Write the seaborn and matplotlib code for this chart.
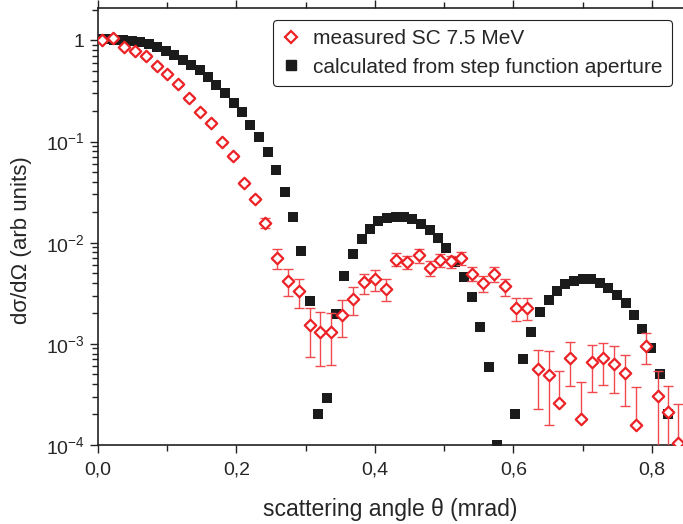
import numpy as np
import pandas as pd
import seaborn as sns
import matplotlib.pyplot as plt
from matplotlib.lines import Line2D
from matplotlib.ticker import LogLocator, FixedLocator, MultipleLocator, NullFormatter

# measured SC 7.5 MeV (red diamonds)
x_meas = [0.006, 0.022, 0.038, 0.053, 0.069, 0.085, 0.100, 0.116, 0.131, 0.148,
          0.164, 0.180, 0.195, 0.211, 0.227, 0.242, 0.258, 0.274, 0.290, 0.306,
          0.321, 0.337, 0.353, 0.368, 0.384, 0.400, 0.416, 0.431, 0.447, 0.463,
          0.479, 0.494, 0.510, 0.525, 0.540, 0.556, 0.572, 0.588, 0.603, 0.619,
          0.635, 0.651, 0.666, 0.681, 0.697, 0.713, 0.729, 0.745, 0.761, 0.777,
          0.792, 0.808, 0.823, 0.837]
y_meas = [1.0, 1.05, 0.86, 0.78, 0.706, 0.56, 0.47, 0.37, 0.27, 0.198,
          0.154, 0.098, 0.072, 0.039, 0.027, 0.0158, 0.0070, 0.0042, 0.0033, 0.00152,
          0.00132, 0.0013, 0.00194, 0.00277, 0.00404, 0.00437, 0.00348, 0.00678, 0.00643, 0.00747,
          0.00561, 0.00667, 0.00652, 0.00704, 0.00492, 0.00398, 0.00489, 0.00369, 0.00225, 0.00225,
          0.00056, 0.000493, 0.000262, 0.000722, 0.00018, 0.00066, 0.000722, 0.000634, 0.000513, 0.000156,
          0.00095, 0.000306, 0.00021, 0.000105]
# error bar ends (upper / lower value); None -> small relative error
y_hi = [None] * 15 + [0.0175, 0.00865, 0.00548, 0.00437, 0.00225,
                      0.00204, 0.00201, 0.00272, 0.00364, 0.00492, 0.00531, 0.00437, 0.00789, 0.0073, 0.00865,
                      0.00652, 0.00776, 0.00742, 0.00807, 0.00574, 0.00471, 0.00574, 0.00437, 0.00283, 0.00283,
                      0.000873, 0.000839, 0.000532, 0.00105, 0.000418, 0.000977, 0.00102, 0.00094, 0.000778, 0.00037,
                      0.00128, 0.000532, 0.000385, 0.000253]
y_lo = [None] * 15 + [0.0139, 0.00552, 0.00298, 0.00225, 0.000748,
                      0.000606, 0.00062, 0.00116, 0.00194, 0.0031, 0.00334, 0.00262, 0.00582, 0.00552, 0.00628,
                      0.00463, 0.00569, 0.00561, 0.00604, 0.00413, 0.00322, 0.00404, 0.00298, 0.00169, 0.00173,
                      0.000226, 0.000158, 0.000262, 0.000385, 0.00018, 0.000337, 0.000393, 0.000325, 0.000244, 0.000156,
                      0.00063, 0.00001, 0.00001, 0.00001]

# calculated from step function aperture (black squares)
x_calc = [0.000, 0.012, 0.024, 0.037, 0.049, 0.061, 0.074, 0.086, 0.098, 0.110,
          0.123, 0.135, 0.147, 0.159, 0.171, 0.184, 0.196, 0.208, 0.220, 0.233,
          0.245, 0.257, 0.270, 0.282, 0.294, 0.306, 0.318, 0.331, 0.344, 0.356,
          0.368, 0.381, 0.393, 0.405, 0.418, 0.430, 0.442, 0.454, 0.467, 0.479,
          0.491, 0.503, 0.516, 0.528, 0.540, 0.552, 0.565, 0.577, 0.602, 0.614,
          0.626, 0.638, 0.651, 0.663, 0.675, 0.687, 0.700, 0.712, 0.725, 0.737,
          0.750, 0.763, 0.774, 0.786, 0.799, 0.811, 0.823]
y_calc = [1.03, 1.03, 1.02, 1.01, 0.99, 0.97, 0.92, 0.86, 0.79, 0.71,
          0.64, 0.575, 0.505, 0.43, 0.365, 0.30, 0.243, 0.194, 0.147, 0.111,
          0.078, 0.052, 0.032, 0.0179, 0.0083, 0.00262, 0.000202, 0.000292, 0.00198, 0.00463,
          0.00776, 0.01094, 0.01374, 0.01622, 0.0175, 0.0181, 0.0179, 0.0171, 0.0153, 0.0134,
          0.0111, 0.00885, 0.0064, 0.00453, 0.00287, 0.00146, 0.00059, 0.0001, 0.0002, 0.000706,
          0.00131, 0.00204, 0.00272, 0.00332, 0.00386, 0.0042, 0.00436, 0.00436, 0.0040, 0.00356,
          0.00305, 0.00253, 0.00194, 0.00141, 0.00091, 0.0005, 0.0002]

x_ticks = [0.0, 0.2, 0.4, 0.6, 0.8]
x_ticklabels = ["0,0", "0,2", "0,4", "0,6", "0,8"]
y_ticks = [1e-4, 1e-3, 1e-2, 1e-1, 1]
y_ticklabels = ["$10^{-4}$", "$10^{-3}$", "$10^{-2}$", "$10^{-1}$", "1"]

RED = "#ec2227"
BLACK = "#1b1b1b"

sns.set_style("ticks")
plt.rcParams["font.family"] = ["Liberation Sans", "DejaVu Sans"]
plt.rcParams["mathtext.fontset"] = "custom"
plt.rcParams["mathtext.rm"] = "Liberation Sans"
plt.rcParams["mathtext.it"] = "Liberation Sans:italic"
plt.rcParams["mathtext.default"] = "regular"

meas = pd.DataFrame({"x": x_meas, "y": y_meas})
calc = pd.DataFrame({"x": x_calc, "y": y_calc})
hi = np.array([h if h is not None else y * 1.04 for h, y in zip(y_hi, y_meas)])
lo = np.array([l if l is not None else y * 0.96 for l, y in zip(y_lo, y_meas)])
yerr = np.vstack([meas["y"].values - lo, hi - meas["y"].values])

fig = plt.figure(figsize=(6.83, 5.24), dpi=100)
ax = fig.add_axes([0.1432, 0.151, 0.857, 0.834])

sns.scatterplot(data=calc, x="x", y="y", marker="s", s=52, color=BLACK,
                edgecolor=BLACK, linewidth=0, ax=ax, zorder=2)
ax.errorbar(meas["x"], meas["y"], yerr=yerr, fmt="none", ecolor="#f04a4e",
            elinewidth=1.0, capsize=3.5, capthick=1.0, zorder=3)
sns.scatterplot(data=meas, x="x", y="y", marker="D", s=34, facecolor="white",
                edgecolor=RED, linewidth=1.6, ax=ax, zorder=4)

ax.set_yscale("log")
ax.set_xlim(0, 0.845)
ax.set_ylim(1e-4, 2.1)

ax.xaxis.set_major_locator(FixedLocator(x_ticks))
ax.set_xticklabels(x_ticklabels)
ax.xaxis.set_minor_locator(MultipleLocator(0.1))
ax.yaxis.set_major_locator(FixedLocator(y_ticks))
ax.set_yticklabels(y_ticklabels)
ax.yaxis.set_minor_locator(LogLocator(base=10, subs=np.arange(2, 10)))
ax.yaxis.set_minor_formatter(NullFormatter())

ax.tick_params(which="both", direction="out", top=True, right=False,
               labelsize=14, color="#222222", width=1.0)
ax.tick_params(which="major", length=6)
ax.tick_params(which="minor", length=4)
ax.tick_params(axis="x", which="both", pad=6)
for side in ["left", "bottom", "top"]:
    ax.spines[side].set_linewidth(1.2)
    ax.spines[side].set_color("#222222")
ax.spines["right"].set_visible(False)

ax.set_xlabel("scattering angle θ (mrad)", fontsize=16.5, labelpad=14)
ax.set_ylabel("dσ/dΩ (arb units)", fontsize=16)
ax.yaxis.set_label_coords(-0.113, 0.469)

handles = [
    Line2D([], [], linestyle="none", marker="D", markersize=6, markerfacecolor="white",
           markeredgecolor=RED, markeredgewidth=1.6),
    Line2D([], [], linestyle="none", marker="s", markersize=7, color=BLACK),
]
leg = ax.legend(handles, ["measured SC 7.5 MeV", "calculated from step function aperture"],
                loc="upper right", bbox_to_anchor=(672 / 683, 1 - 20 / 524),
                bbox_transform=fig.transFigure, borderaxespad=0, fontsize=15,
                frameon=True, fancybox=True, handletextpad=0.6, handlelength=0.9,
                borderpad=0.45, labelspacing=0.45)
leg.get_frame().set_edgecolor("#222222")
leg.get_frame().set_linewidth(0.8)
leg.get_frame().set_alpha(1)

fig.savefig("out.png", dpi=100)
